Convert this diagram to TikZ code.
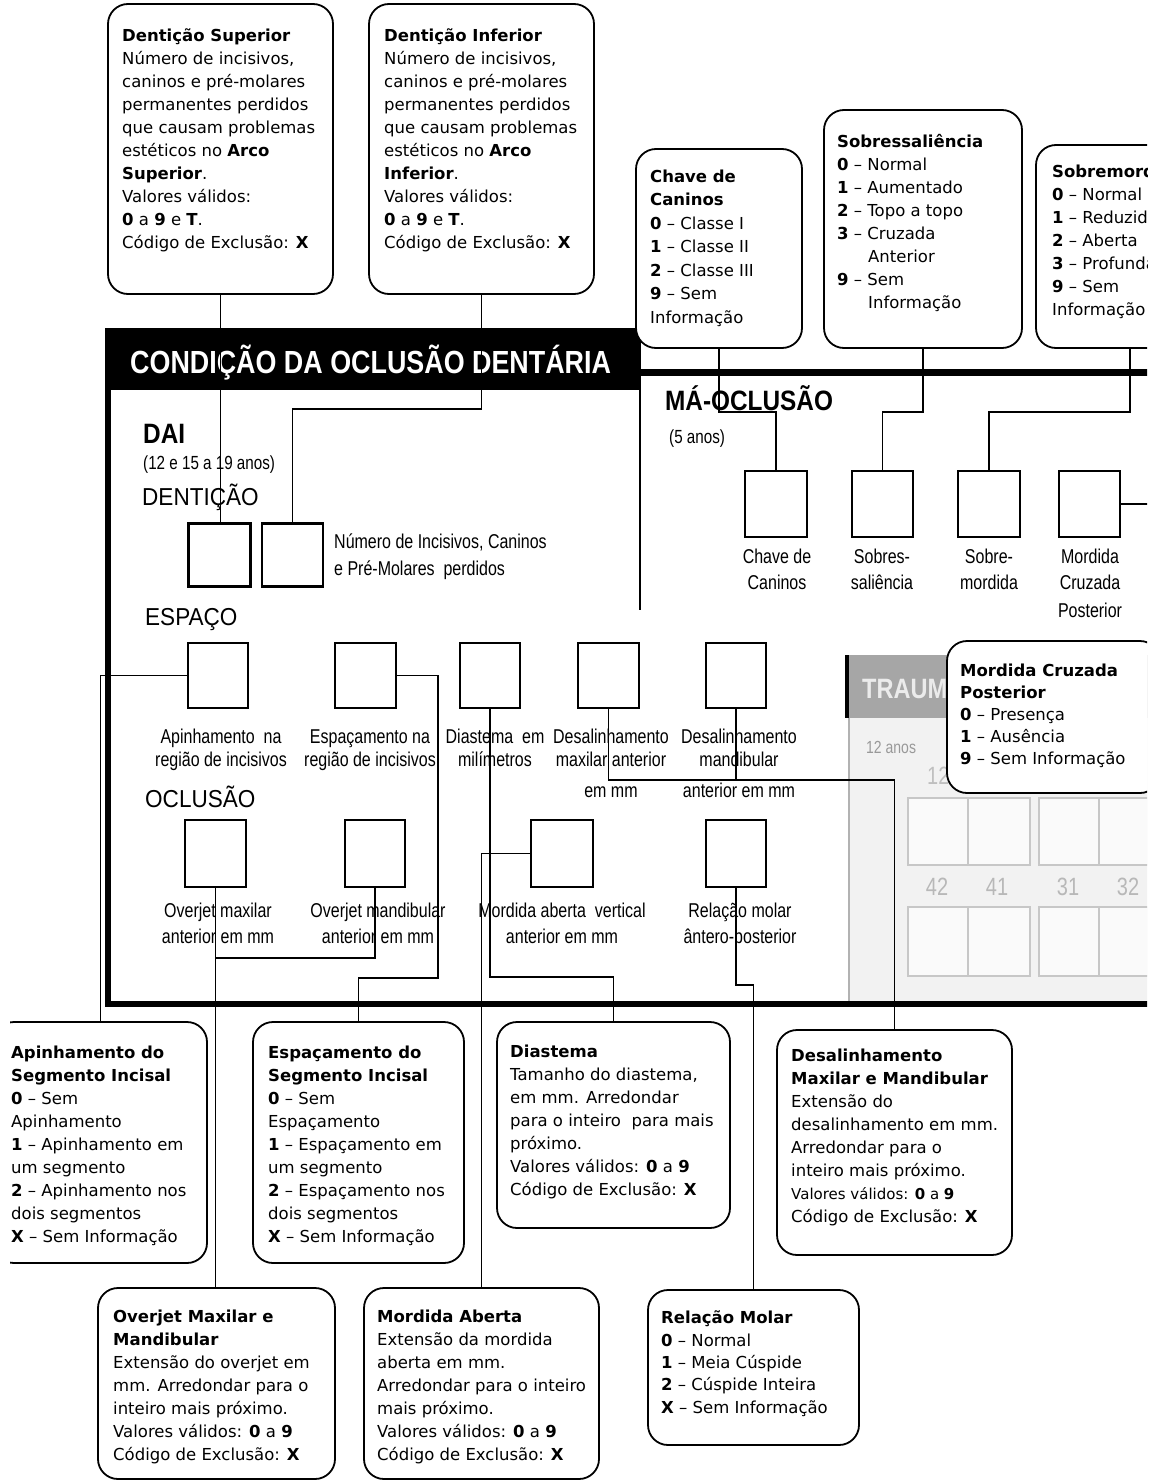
\documentclass[tikz,border=0pt]{standalone}
\usepackage{fontspec}
\setmainfont{DejaVu Sans}
\newfontfamily\nar[FakeStretch=0.8]{Liberation Sans}
\newfontfamily\hd[FakeStretch=0.92]{Liberation Sans}
\newfontfamily\hdb[FakeStretch=0.87]{Liberation Sans}
\newfontfamily\barf[FakeStretch=0.84]{Liberation Sans}
\begin{document}
\begin{tikzpicture}[x=1pt,y=-1pt,
  rbox/.style={draw, line width=1.8pt, rounded corners=20pt, fill=white, inner sep=0pt},
  sq/.style={draw, line width=2.4pt, fill=white, inner sep=0pt},
  con/.style={line width=1.8pt},
  btxt/.style={inner sep=0pt, anchor=base west, align=left, font=\fontsize{16.5}{23}\selectfont},
  lbl/.style={inner sep=0pt, anchor=base, align=center, font=\nar\fontsize{20}{24}\selectfont},
  head/.style={inner sep=0pt, anchor=base west, font=\hd\fontsize{24.5}{28}\selectfont},
  tooth/.style={draw=black!22, line width=1.5pt, fill=black!2},
  toothnum/.style={inner sep=0pt, anchor=base, text=black!28, font=\nar\fontsize{25}{28}\selectfont}
]
\useasboundingbox (0,0) rectangle (1157,1483);
\fill[white] (0,0) rectangle (1157,1483);
\begin{scope}
\clip (10,0) rectangle (1147,1483);

% ---- gray panel (traumatismo, partly hidden) ----
\fill[black!5] (848,718) rectangle (1152,1002);
\draw[black!30, line width=1.5pt] (849,718) -- (849,1002);
\fill[black!35] (848,655) rectangle (1152,718);
\fill[black] (845,655) rectangle (849,718);
\node[inner sep=0pt, anchor=base west, text=white!92!black, font=\barf\bfseries\fontsize{28}{30}\selectfont] (traum) at (862,698) {TRAUM};
\node[inner sep=0pt, anchor=base west, text=black!40, font=\nar\fontsize{17.5}{20}\selectfont] (t12anos) at (866,753) {12 anos};
\node[inner sep=0pt, anchor=base west, text=black!25, font=\nar\fontsize{25}{28}\selectfont] (t12) at (927,784) {12};
\draw[tooth] (908,798) rectangle (968,865);
\draw[tooth] (968,798) rectangle (1030,865);
\draw[tooth] (1039,798) rectangle (1099,865);
\draw[tooth] (1099,798) rectangle (1160,865);
\draw[tooth] (908,907) rectangle (968,976);
\draw[tooth] (968,907) rectangle (1030,976);
\draw[tooth] (1039,907) rectangle (1099,976);
\draw[tooth] (1099,907) rectangle (1160,976);
\node[toothnum] (n42) at (937,895) {42};
\node[toothnum] (n41) at (997,895) {41};
\node[toothnum] (n31) at (1068,895) {31};
\node[toothnum] (n32) at (1128,895) {32};

% ---- frame ----
\draw[line width=6pt, line join=miter] (108,390) -- (108,1004) -- (1152,1004);
\draw[line width=7pt] (641,372) -- (1152,372);
\draw[line width=2pt] (640,390) -- (640,610);

% ---- title bar ----
\node[fill=black, minimum width=536pt, minimum height=62pt, inner sep=0pt, anchor=north west] (bar) at (105,328) {};
\node[inner sep=0pt, anchor=base west, text=white, font=\barf\bfseries\fontsize{32}{36}\selectfont] (bartxt) at (130,373) {CONDIÇÃO DA OCLUSÃO DENTÁRIA};

% ---- rounded boxes ----
\node[rbox, minimum width=225pt, minimum height=290pt] (bds) at (220.5,149) {};
\node[rbox, minimum width=225pt, minimum height=290pt] (bdi) at (481.5,149) {};
\node[rbox, minimum width=166pt, minimum height=199pt] (bcc) at (719,248.5) {};
\node[rbox, minimum width=198pt, minimum height=238pt] (bss) at (923,229) {};
\node[rbox, minimum width=188pt, minimum height=203pt] (bsm) at (1130,246.5) {};
\node[rbox, minimum width=213pt, minimum height=152pt] (bmcp) at (1053.5,717) {};
\node[rbox, minimum width=213pt, minimum height=241pt] (bap) at (100.5,1142.5) {};
\node[rbox, minimum width=211pt, minimum height=241pt] (bes) at (358.5,1142.5) {};
\node[rbox, minimum width=233pt, minimum height=206pt] (bdia) at (613.5,1125) {};
\node[rbox, minimum width=235pt, minimum height=225pt] (bdes) at (894.5,1142.5) {};
\node[rbox, minimum width=237pt, minimum height=191pt] (boj) at (216.5,1383.5) {};
\node[rbox, minimum width=235pt, minimum height=191pt] (bma) at (481.5,1383.5) {};
\node[rbox, minimum width=211pt, minimum height=155pt] (brm) at (753.5,1367.5) {};

% ---- box texts (anchor = baseline of the last line) ----
\node[btxt] (tds) at (122,248) {{\bfseries Dentição Superior}\\Número de incisivos,\\caninos e pré-molares\\permanentes perdidos\\que causam problemas\\estéticos no {\bfseries Arco}\\{\bfseries Superior}.\\Valores válidos:\\{\bfseries 0} a {\bfseries 9} e {\bfseries T}.\\Código de Exclusão: {\bfseries X}};
\node[btxt] (tdi) at (384,248) {{\bfseries Dentição Inferior}\\Número de incisivos,\\caninos e pré-molares\\permanentes perdidos\\que causam problemas\\estéticos no {\bfseries Arco}\\{\bfseries Inferior}.\\Valores válidos:\\{\bfseries 0} a {\bfseries 9} e {\bfseries T}.\\Código de Exclusão: {\bfseries X}};
\node[btxt, font=\fontsize{16.5}{23.5}\selectfont] (tcc) at (650,323) {{\bfseries Chave de}\\{\bfseries Caninos}\\{\bfseries 0} – Classe I\\{\bfseries 1} – Classe II\\{\bfseries 2} – Classe III\\{\bfseries 9} – Sem\\Informação};
\node[btxt] (tss) at (837,308) {{\bfseries Sobressaliência}\\{\bfseries 0} – Normal\\{\bfseries 1} – Aumentado\\{\bfseries 2} – Topo a topo\\{\bfseries 3} – Cruzada\\\hspace*{31pt}Anterior\\{\bfseries 9} – Sem\\\hspace*{31pt}Informação};
\node[btxt] (tsm) at (1052,315) {{\bfseries Sobremordida}\\{\bfseries 0} – Normal\\{\bfseries 1} – Reduzida\\{\bfseries 2} – Aberta\\{\bfseries 3} – Profunda\\{\bfseries 9} – Sem\\Informação};
\node[btxt, font=\fontsize{16.5}{22}\selectfont] (tmcp) at (960,764) {{\bfseries Mordida Cruzada}\\{\bfseries Posterior}\\{\bfseries 0} – Presença\\{\bfseries 1} – Ausência\\{\bfseries 9} – Sem Informação};
\node[btxt] (tap) at (11,1242) {{\bfseries Apinhamento do}\\{\bfseries Segmento Incisal}\\{\bfseries 0} – Sem\\Apinhamento\\{\bfseries 1} – Apinhamento em\\um segmento\\{\bfseries 2} – Apinhamento nos\\dois segmentos\\{\bfseries X} – Sem Informação};
\node[btxt] (tes) at (268,1242) {{\bfseries Espaçamento do}\\{\bfseries Segmento Incisal}\\{\bfseries 0} – Sem\\Espaçamento\\{\bfseries 1} – Espaçamento em\\um segmento\\{\bfseries 2} – Espaçamento nos\\dois segmentos\\{\bfseries X} – Sem Informação};
\node[btxt] (tdia) at (510,1195) {{\bfseries Diastema}\\Tamanho do diastema,\\em mm. Arredondar\\para o inteiro\ \ para mais\\próximo.\\Valores válidos: {\bfseries 0} a {\bfseries 9}\\Código de Exclusão: {\bfseries X}};
\node[btxt] (tdes) at (791,1222) {{\bfseries Desalinhamento}\\{\bfseries Maxilar e Mandibular}\\Extensão do\\desalinhamento em mm.\\Arredondar para o\\inteiro mais próximo.\\{\fontsize{15}{23}\selectfont Valores válidos: {\bfseries 0} a {\bfseries 9}}\\Código de Exclusão: {\bfseries X}};
\node[btxt] (toj) at (113,1460) {{\bfseries Overjet Maxilar e}\\{\bfseries Mandibular}\\Extensão do overjet em\\mm. Arredondar para o\\inteiro mais próximo.\\Valores válidos: {\bfseries 0} a {\bfseries 9}\\Código de Exclusão: {\bfseries X}};
\node[btxt] (tma) at (377,1460) {{\bfseries Mordida Aberta}\\Extensão da mordida\\aberta em mm.\\Arredondar para o inteiro\\mais próximo.\\Valores válidos: {\bfseries 0} a {\bfseries 9}\\Código de Exclusão: {\bfseries X}};
\node[btxt, font=\fontsize{16.5}{22.3}\selectfont] (trm) at (661,1413) {{\bfseries Relação Molar}\\{\bfseries 0} – Normal\\{\bfseries 1} – Meia Cúspide\\{\bfseries 2} – Cúspide Inteira\\{\bfseries X} – Sem Informação};

% ---- headings ----
\node[inner sep=0pt, anchor=base west, font=\hdb\bfseries\fontsize{28}{30}\selectfont] (hdai) at (143,443) {DAI};
\node[inner sep=0pt, anchor=base west, font=\nar\fontsize{19}{22}\selectfont] (hdaisub) at (143,469) {(12 e 15 a 19 anos)};
\node[head] (hden) at (142,505) {DENTIÇÃO};
\node[head] (hesp) at (145,625) {ESPAÇO};
\node[head] (hocl) at (145,807) {OCLUSÃO};
\node[inner sep=0pt, anchor=base west, font=\hdb\bfseries\fontsize{28}{30}\selectfont] (hmao) at (665,410) {MÁ-OCLUSÃO};
\node[inner sep=0pt, anchor=base west, font=\nar\fontsize{19}{22}\selectfont] (hmaosub) at (669,443) {(5 anos)};

% ---- squares ----
\node[sq, minimum width=62pt, minimum height=63pt] (qd1) at (219.5,555) {};
\node[sq, minimum width=61pt, minimum height=63pt] (qd2) at (292.5,555) {};
\node[sq, minimum width=60pt, minimum height=65pt] (qap) at (218,675.5) {};
\node[sq, minimum width=61pt, minimum height=65pt] (qes) at (365.5,675.5) {};
\node[sq, minimum width=60pt, minimum height=65pt] (qdia) at (490,675.5) {};
\node[sq, minimum width=61pt, minimum height=65pt] (qdmx) at (608.5,675.5) {};
\node[sq, minimum width=60pt, minimum height=65pt] (qdmd) at (736,675.5) {};
\node[sq, minimum width=61pt, minimum height=67pt] (qojx) at (215.5,853.5) {};
\node[sq, minimum width=60pt, minimum height=67pt] (qojd) at (375,853.5) {};
\node[sq, minimum width=62pt, minimum height=67pt] (qmav) at (562,853.5) {};
\node[sq, minimum width=60pt, minimum height=67pt] (qrm) at (736,853.5) {};
\node[sq, minimum width=62pt, minimum height=66pt] (qcc) at (776,504) {};
\node[sq, minimum width=61pt, minimum height=66pt] (qss) at (882.5,504) {};
\node[sq, minimum width=62pt, minimum height=66pt] (qsm) at (989,504) {};
\node[sq, minimum width=61pt, minimum height=66pt] (qmcp) at (1089.5,504) {};
\coordinate (mcend) at (1152,504);

% ---- square labels (anchor = baseline of the last line) ----
\node[inner sep=0pt, anchor=base west, align=left, font=\nar\fontsize{20}{27}\selectfont] (lden) at (334,575) {Número de Incisivos, Caninos\\e Pré-Molares\ \ perdidos};
\node[lbl] (lcc) at (777,589) {Chave de\\[2pt]Caninos};
\node[lbl] (lss) at (882,589) {Sobres-\\[2pt]saliência};
\node[lbl] (lsm) at (989,589) {Sobre-\\[2pt]mordida};
\node[lbl] (lmcp) at (1090,617) {Mordida\\[2pt]Cruzada\\[4pt]Posterior};
\node[lbl, font=\nar\fontsize{20}{23}\selectfont] (lap) at (221,766) {Apinhamento\ \ na\\região de incisivos};
\node[lbl, font=\nar\fontsize{20}{23}\selectfont] (les) at (370,766) {Espaçamento na\\região de incisivos};
\node[lbl, font=\nar\fontsize{20}{23}\selectfont] (ldia) at (495,766) {Diastema\ \ em\\milímetros};
\node[lbl, font=\nar\fontsize{20}{23}\selectfont] (ldmx) at (611,797) {Desalinhamento\\maxilar anterior\\[8pt]em mm};
\node[lbl, font=\nar\fontsize{20}{23}\selectfont] (ldmd) at (739,797) {Desalinhamento\\mandibular\\[8pt]anterior em mm};
\node[lbl] (lojx) at (218,943) {Overjet maxilar\\[2pt]anterior em mm};
\node[lbl] (lojd) at (378,943) {Overjet mandibular\\[2pt]anterior em mm};
\node[lbl] (lmav) at (562,943) {Mordida aberta\ \ vertical\\[2pt]anterior em mm};
\node[lbl] (lrm) at (740,943) {Relação molar\\[2pt]ântero-posterior};

% ---- connectors ----
\draw[con] (bds.south) -- (bds.south |- qd1.north);
\draw[con] (bdi.south) -- ++(0,114) -| (qd2.north);
\draw[con] (bcc.south) -- ++(0,63) -| (qcc.north);
\draw[con] (bss.south) -- ++(0,63) -| (qss.north);
\draw[con] (bsm.south) -- ++(0,63) -| (qsm.north);
\draw[con] (qmcp.east) -- (mcend);
\draw[con] (qap.west) -| (bap.north);
\draw[con] (qes.east) -- ++(41,0) -- ++(0,302.5) -| (bes.north);
\draw[con] (qdia.south) -- ++(0,268) -| (bdia.north);
\draw[con] (qdmx.south) -- ++(0,71) -| (bdes.north);
\draw[con] (qdmd.south) -- ++(0,71);
\draw[con] (qojx.south) -- (qojx.south |- boj.north);
\draw[con] (qojd.south) -- ++(0,70) -| (qojx.south);
\draw[con] (qmav.west) -| (bma.north);
\draw[con] (qrm.south) -- ++(0,97) -| (brm.north);
\end{scope}
\end{tikzpicture}
\end{document}
